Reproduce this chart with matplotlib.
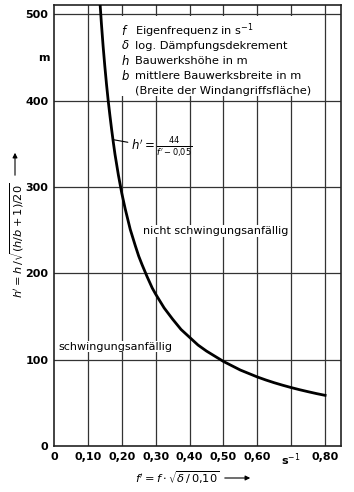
import matplotlib
matplotlib.use("Agg")
import matplotlib.pyplot as plt
from matplotlib.patches import Rectangle, FancyArrowPatch

# ---- data ----
f_prime = [0.130, 0.135, 0.140, 0.145, 0.150, 0.155, 0.160, 0.165, 0.170, 0.175,
           0.180, 0.185, 0.190, 0.200, 0.210, 0.225, 0.240, 0.250, 0.260, 0.275,
           0.290, 0.300, 0.325, 0.350, 0.375, 0.400, 0.425, 0.450, 0.475, 0.500,
           0.525, 0.550, 0.575, 0.600, 0.625, 0.650, 0.675, 0.700, 0.725, 0.750,
           0.775, 0.800]
h_prime = [550, 518, 489, 463, 440, 419, 400, 383, 367, 352,
           338, 326, 314, 293, 275, 251, 232, 220, 210, 196,
           183, 176, 160, 147, 135, 126, 117, 110, 104, 98,
           93, 88, 84, 80, 76.5, 73.3, 70.4, 67.7, 65.2, 62.9,
           60.7, 58.7]

x_ticks = [0.0, 0.1, 0.2, 0.3, 0.4, 0.5, 0.6, 0.7, 0.8]
x_tick_labels = ["0", "0,10", "0,20", "0,30", "0,40", "0,50", "0,60", "s$^{-1}$", "0,80"]
y_ticks = [0, 100, 200, 300, 400, 500]
y_tick_labels = ["0", "100", "200", "300", "400", "500"]

legend_symbols = ["$f$", r"$\delta$", "$h$", "$b$", ""]
legend_texts = ["Eigenfrequenz in s$^{-1}$", "log. Dämpfungsdekrement",
                "Bauwerkshöhe in m", "mittlere Bauwerksbreite in m",
                "(Breite der Windangriffsfläche)"]

plt.rcParams['font.family'] = ['DejaVu Sans']
plt.rcParams['mathtext.fontset'] = 'dejavusans'

fig = plt.figure(figsize=(3.54, 4.92), dpi=100)
W, H = 354, 492
ax = fig.add_axes([54 / W, 1 - 446 / H, (341 - 54) / W, (446 - 5) / H])
ax.set_xlim(0, 0.847)
ax.set_ylim(0, 511)

for x in x_ticks[1:]:
    ax.axvline(x, color='#333333', lw=0.9, zorder=1)
for y in y_ticks[1:]:
    ax.axhline(y, color='#333333', lw=0.9, zorder=1)

for s in ax.spines.values():
    s.set_linewidth(1.2)
    s.set_color('#222222')

ax.set_xticks(x_ticks)
ax.set_xticklabels(x_tick_labels, fontsize=8, fontweight='bold')
ax.set_yticks(y_ticks)
ax.set_yticklabels(y_tick_labels, fontsize=8, fontweight='bold')
ax.tick_params(length=0, pad=4)
ax.text(-0.012, 450, "m", ha='right', va='center', fontsize=8, fontweight='bold')

# legend box (white background hiding grid)
ax.add_patch(Rectangle((0.18, 405), 0.61, 93, facecolor='white', edgecolor='none', zorder=2))
for i, (sym, txt) in enumerate(zip(legend_symbols, legend_texts)):
    py = 31 + i * 15
    yv = (446 - py) / 0.862
    if sym:
        ax.text(0.199, yv, sym, ha='left', va='center', fontsize=8.4, zorder=3)
    ax.text(0.238, yv, txt, ha='left', va='center', fontsize=8.2, zorder=3)

# curve
ax.plot(f_prime, h_prime, color='black', lw=2.0, zorder=4, solid_joinstyle='round')

# formula annotation
ax.annotate(r"$h' = \frac{44}{f' - 0{,}05}$", xy=(0.174, 355), xytext=(0.226, 345),
            fontsize=8.5, ha='left', va='center', zorder=3,
            arrowprops=dict(arrowstyle='-', color='black', lw=0.8, shrinkA=0, shrinkB=0))

ax.text(0.262, 249, "nicht schwingungsanfällig", fontsize=8, ha='left', va='center',
        zorder=3, bbox=dict(facecolor='white', edgecolor='none', pad=0.5))
ax.text(0.012, 115, "schwingungsanfällig", fontsize=8, ha='left', va='center',
        zorder=3, bbox=dict(facecolor='white', edgecolor='none', pad=0.5))

# axis labels with arrows
fig.text(177 / W, 1 - 478 / H, r"$f' = f \cdot \sqrt{\delta\, /\, 0{,}10}$", fontsize=8.2,
         ha='center', va='center')
fig.add_artist(FancyArrowPatch((222 / W, 1 - 478 / H), (253 / W, 1 - 478 / H),
               transform=fig.transFigure, arrowstyle='-|>', mutation_scale=7, color='black', lw=0.8))
fig.text(17 / W, 1 - 240 / H, r"$h' = h\, /\sqrt{(h/b + 1)/20}$", fontsize=8.2,
         ha='center', va='center', rotation=90)
fig.add_artist(FancyArrowPatch((15 / W, 1 - 178 / H), (15 / W, 1 - 150 / H),
               transform=fig.transFigure, arrowstyle='-|>', mutation_scale=7, color='black', lw=0.8))

fig.savefig("out.png", dpi=100, facecolor='white')
